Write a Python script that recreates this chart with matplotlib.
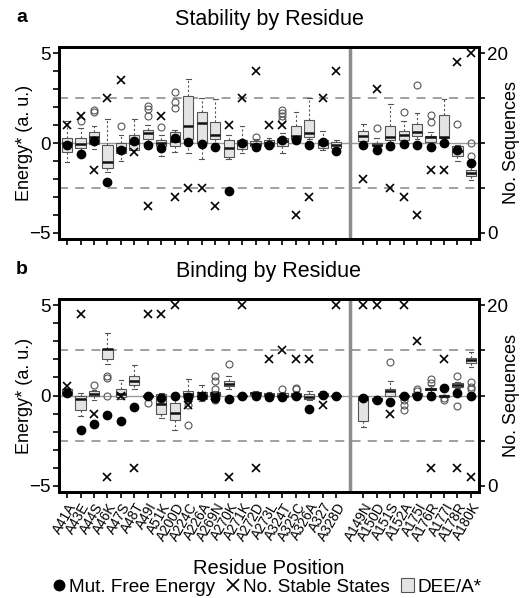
import matplotlib
matplotlib.use("Agg")
import matplotlib.pyplot as plt
from matplotlib.lines import Line2D
from matplotlib.patches import Patch
import numpy as np

plt.rcParams['font.family'] = ['Liberation Sans', 'DejaVu Sans']

labels_left = ["A41A", "A43E", "A44S", "A46K", "A47S", "A48T", "A49I", "A51K", "A200D", "A224C",
               "A226A", "A269N", "A270K", "A271K", "A272D", "A273L", "A324T", "A325C", "A326A",
               "A327", "A328D"]
labels_right = ["A149N", "A150D", "A151S", "A152A", "A175I", "A176R", "A177I", "A178R", "A180K"]
labels = labels_left + labels_right

# ---------- Panel a: Stability ----------
a_q1 = [-0.52, -0.30, -0.05, -1.39, -0.55, -0.40, 0.22, -0.18, -0.15, 0.20, 0.00, 0.22, -0.78, -0.33, -0.15,
        -0.18, -0.18, 0.22, 0.33, -0.28, -0.28,
        0.10, -0.18, 0.15, 0.18, 0.40, 0.04, 0.28, -0.74, -1.85]
a_med = [0.00, -0.05, 0.33, -1.05, -0.28, 0.00, 0.55, 0.00, 0.10, 0.96, 1.10, 0.46, -0.30, -0.05, -0.05,
         0.00, 0.10, 0.37, 0.55, -0.05, -0.10,
         0.40, -0.13, 0.33, 0.46, 0.60, 0.33, 0.33, -0.46, -1.67]
a_q3 = [0.28, 0.28, 0.60, -0.13, 0.00, 0.46, 0.70, 0.15, 0.60, 2.60, 1.70, 1.15, 0.18, 0.15, 0.10,
        0.18, 0.28, 0.96, 1.30, 0.15, 0.04,
        0.65, 0.00, 0.96, 0.65, 1.05, 0.40, 1.57, -0.18, -1.48]
a_wlo = [-1.07, -0.45, -0.33, -1.60, -1.00, -0.40, 0.00, -0.70, -0.52, -0.55, -0.90, 0.00, -0.90, -0.55, -0.30,
         -0.35, -0.55, 0.10, 0.20, -0.40, -0.35,
         0.00, -0.30, 0.05, 0.05, 0.20, -0.10, 0.05, -1.00, -2.07]
a_whi = [1.20, 0.83, 0.93, 1.33, 0.46, 1.33, 1.00, 0.46, 0.70, 3.55, 2.50, 2.45, 0.46, 0.93, 0.20,
         0.30, 0.55, 1.70, 2.50, 0.65, 0.15,
         1.07, 0.28, 2.17, 1.20, 1.67, 0.60, 2.46, -0.10, -1.30]
a_fl = [[], [1.2], [1.7, 1.85], [], [0.96], [], [1.5, 1.9, 2.07], [0.9], [1.95, 2.3, 2.87], [], [], [], [], [], [0.33],
        [], [1.3, 1.48, 1.67, 1.85], [], [], [], [],
        [], [0.83], [], [1.7], [3.24], [1.15, 1.57], [], [1.07], [-0.74, 0.0]]
a_mut = [-0.10, -0.60, 0.10, -2.20, -0.37, 0.10, -0.10, -0.30, 0.28, 0.04, -0.05, -0.20, -2.65, 0.00, -0.20,
         -0.10, 0.18, 0.18, -0.10, 0.04, -0.43,
         -0.10, -0.37, -0.18, -0.04, -0.13, -0.24, 0.00, -0.37, -1.10]
a_states = [12, 13, 7, 15, 17, 9, 3, 13, 4, 5, 5, 3, 12, 15, 18,
            12, 12, 2, 4, 15, 18,
            6, 16, 5, 4, 2, 7, 7, 19, 20]

# ---------- Panel b: Binding ----------
b_q1 = [0.05, -0.78, -0.04, 2.00, -0.07, 0.56, -0.07, -1.00, -1.34, -0.07, -0.22, 0.00, 0.52, -0.03, 0.05,
        -0.05, -0.10, -0.07, -0.19, -0.03, -0.03,
        -1.44, -0.32, 0.00, -0.07, -0.03, 0.28, -0.07, 0.49, 1.79]
b_med = [0.15, -0.19, 0.11, 2.57, 0.10, 0.80, -0.02, -0.45, -0.97, 0.11, 0.00, 0.11, 0.65, 0.00, 0.12,
         0.02, 0.00, 0.02, -0.07, 0.05, 0.00,
         -0.19, -0.22, 0.24, 0.00, 0.05, 0.37, 0.00, 0.56, 1.98]
b_q3 = [0.35, -0.04, 0.24, 2.60, 0.37, 1.08, 0.05, 0.11, -0.41, 0.24, 0.19, 0.19, 0.80, 0.03, 0.22,
        0.15, 0.15, 0.15, 0.06, 0.15, 0.03,
        -0.04, -0.13, 0.34, 0.05, 0.15, 0.43, 0.03, 0.67, 2.10]
b_wlo = [0.00, -1.16, -0.26, 1.74, -0.20, 0.35, -0.10, -1.25, -1.90, -0.20, -0.30, -0.05, 0.34, -0.05, 0.00,
         -0.10, -0.20, -0.10, -0.25, -0.05, -0.05,
         -1.72, -0.35, -0.05, -0.10, -0.05, 0.20, -0.10, 0.40, 1.60]
b_whi = [0.40, 0.15, 0.30, 3.47, 0.86, 1.68, 0.10, 0.15, 0.05, 0.93, 0.56, 0.25, 1.08, 0.05, 0.25,
         0.20, 0.20, 0.20, 0.24, 0.25, 0.05,
         0.00, -0.05, 0.80, 0.10, 0.20, 0.56, 0.05, 0.75, 2.39]
b_fl = [[], [], [0.6], [0.0, 0.99, 1.08], [], [], [-0.41], [], [], [-0.26, -0.5, -1.62], [],
        [1.08, 0.8, 0.34, -0.07, -0.19, -0.26], [1.74], [], [],
        [], [0.34], [0.35, 0.43], [], [], [],
        [], [], [1.87], [-0.26, -0.5, -0.78], [0.24, 0.34], [0.7, 0.9], [-0.13, -0.26], [1.08, -0.56],
        [0.34, 0.49, 0.75]]
b_mut = [0.15, -1.94, -1.57, -1.06, -1.44, -0.65, -0.04, -0.13, 0.00, -0.07, 0.00, -0.13, -0.22, 0.00, -0.04,
         -0.07, -0.07, 0.00, -0.75, 0.05, 0.00,
         -0.13, -0.26, -0.37, 0.00, 0.00, 0.00, 0.43, 0.15, 0.00]
b_states = [11, 19, 8, 1, 10, 2, 19, 19, 20, 9, 10, 10, 1, 20, 2,
            14, 15, 14, 14, 9, 20,
            20, 20, 8, 20, 16, 2, 14, 2, 1]

positions = list(range(1, len(labels_left) + 1)) + \
    list(range(len(labels_left) + 2, len(labels_left) + 2 + len(labels_right)))
divider = len(labels_left) + 1

W, H = 522, 598
fig = plt.figure(figsize=(W / 100, H / 100), dpi=100)

YL = (-5.35, 5.35)
AX_L, AX_W = 59, 420


def panel(rect, q1, med, q3, wlo, whi, fl, mut, states, title, show_x):
    ax = fig.add_axes(rect)
    stats = []
    for i in range(len(q1)):
        stats.append(dict(q1=q1[i], med=med[i], q3=q3[i], whislo=wlo[i], whishi=whi[i], fliers=fl[i]))
    ax.axhline(0, color='#999999', lw=1.0, zorder=0)
    ax.axhline(2.5, color='#999999', lw=1.3, ls=(0, (5, 4)), zorder=0)
    ax.axhline(-2.5, color='#999999', lw=1.3, ls=(0, (5, 4)), zorder=0)
    ax.axvline(divider, color='#8c8c8c', lw=2.5, zorder=1)
    ax.bxp(stats, positions=positions, widths=0.75, patch_artist=True, showfliers=True,
           boxprops=dict(facecolor='#e4e4e4', edgecolor='#555555', lw=0.8),
           medianprops=dict(color='#111111', lw=1.8),
           whiskerprops=dict(color='#555555', lw=0.8, ls=(0, (2, 2))),
           capprops=dict(color='#555555', lw=0.8), capwidths=0.35,
           flierprops=dict(marker='o', markerfacecolor='none', markeredgecolor='#555555',
                           markersize=5, markeredgewidth=0.8),
           zorder=2)
    ax.plot(positions, mut, 'o', color='black', markersize=6, zorder=4)
    ax.set_xlim(0.4, positions[-1] + 0.6)
    ax.set_ylim(*YL)
    ax.set_yticks(range(-5, 6))
    ax.set_yticklabels(['\u22125' if v == -5 else ('0' if v == 0 else ('5' if v == 5 else '')) for v in range(-5, 6)],
                       fontsize=13.5)
    ax.set_ylabel('Energy* (a. u.)', fontsize=13)
    ax.yaxis.set_label_coords((33 - AX_L) / AX_W, 0.5)
    ax.set_xticks(positions)
    if show_x:
        ax.set_xticklabels(labels, rotation=60, ha='right', va='top', rotation_mode='anchor', fontsize=9.8)
    else:
        ax.set_xticklabels([])
    ax.tick_params(axis='both', direction='out', length=4, width=1.2, pad=2)
    for s in ax.spines.values():
        s.set_linewidth(2.0)
    ax.set_title(title, fontsize=15.5, pad=16)
    ax2 = ax.twinx()
    ax2.plot(positions, states, 'x', color='black', markersize=5.8, markeredgewidth=1.2, zorder=5)
    ax2.set_ylim((YL[0] + 5) * 2, (YL[1] + 5) * 2)
    ax2.set_yticks([0, 5, 10, 15, 20])
    ax2.set_yticklabels(['0', '', '', '', '20'], fontsize=13.5)
    ax2.set_ylabel('No. Sequences', fontsize=13)
    ax2.yaxis.set_label_coords((503 - AX_L) / AX_W, 0.5)
    ax2.tick_params(axis='y', direction='out', length=4, width=1.2, pad=2)
    for s in ax2.spines.values():
        s.set_linewidth(2.0)
    return ax


axa = panel([AX_L / W, 1 - 239 / H, AX_W / W, 192 / H], a_q1, a_med, a_q3, a_wlo, a_whi, a_fl, a_mut, a_states,
            'Stability by Residue', False)
axb = panel([AX_L / W, 1 - 492 / H, AX_W / W, 193 / H], b_q1, b_med, b_q3, b_wlo, b_whi, b_fl, b_mut, b_states,
            'Binding by Residue', True)

fig.text(16 / W, 1 - 18 / H, 'a', fontsize=14, fontweight='bold', va='center')
fig.text(16 / W, 1 - 270 / H, 'b', fontsize=14, fontweight='bold', va='center')
fig.text(269 / W, 1 - 568 / H, 'Residue Position', fontsize=14.5, ha='center', va='center')

handles = [Line2D([], [], marker='o', ls='none', color='black', markersize=7.5),
           Line2D([], [], marker='x', ls='none', color='black', markersize=8.5, markeredgewidth=1.2),
           Patch(facecolor='#e4e4e4', edgecolor='#555555', lw=0.8)]
fig.legend(handles, ['Mut. Free Energy', 'No. Stable States', 'DEE/A*'], loc='center',
           bbox_to_anchor=(267 / W, 1 - 587 / H), ncol=3, frameon=False, fontsize=13.7,
           handlelength=0.7, handletextpad=0.15, columnspacing=0.6, borderaxespad=0, borderpad=0)

fig.savefig('out.png', dpi=100)
